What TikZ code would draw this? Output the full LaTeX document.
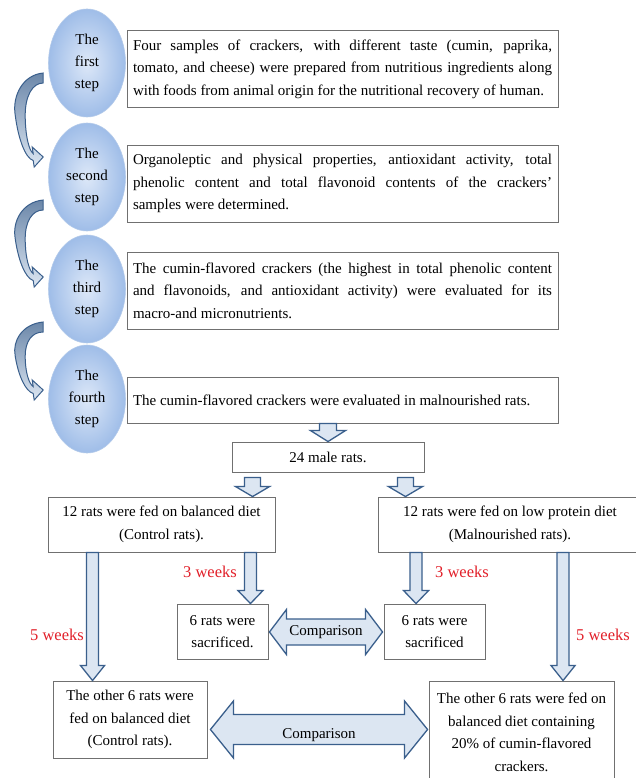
\documentclass[tikz,border=0pt]{standalone}
\usepackage{fontspec}
\setmainfont{Liberation Serif}
\usetikzlibrary{
  shapes.geometric,
  calc
}
\hyphenpenalty=10000
\exhyphenpenalty=10000
\definecolor{stepInner}{HTML}{DDE8F8}
\definecolor{stepOuter}{HTML}{9FBDE8}
\definecolor{stepEdge}{HTML}{B3CAEA}
\definecolor{arrowFill}{HTML}{DCE6F2}
\definecolor{arrowLine}{HTML}{3A5F8C}
\definecolor{boxLine}{HTML}{707070}
\definecolor{weekRed}{HTML}{E2202A}
\tikzset{
  stepNode/.style={
    ellipse, minimum width=77pt, minimum height=108pt, inner sep=0pt,
    draw=stepEdge, line width=0.6pt, inner color=stepInner,
    outer color=stepOuter, align=center,
    font=\fontsize{15}{22}\selectfont
  },
  textBox/.style={
    draw=boxLine, line width=0.9pt, fill=white, inner xsep=6pt,
    inner ysep=0pt, font=\fontsize{15}{22.5}\selectfont
  },
  stageBox/.style={
    textBox, text width=419pt, align=justify, minimum height=77pt
  },
  ratBox/.style={
    textBox, align=center
  },
  weekLabel/.style={
    text=weekRed, font=\fontsize{16.5}{20}\selectfont
  },
  compLabel/.style={
    font=\fontsize{15}{18}\selectfont
  },
  blockArrow/.style={
    draw=arrowLine, fill=arrowFill, line width=1.3pt, line join=miter
  },
  curveArrow/.style={
    draw=arrowLine, line width=1pt,
    top color=arrowLine!75!white, bottom color=arrowFill
  }
}
% block arrow pointing down: from, to, half shaft, half head, head length
\newcommand{\blockDown}[5]{%
  \draw[blockArrow] let \p1=(#1), \p2=(#2) in
    (\x1-#3,\y1) -- (\x1+#3,\y1) -- (\x1+#3,\y2+#5) -- (\x1+#4,\y2+#5)
    -- (\x1,\y2) -- (\x1-#4,\y2+#5) -- (\x1-#3,\y2+#5) -- cycle;
}
% block arrow with two heads: left tip, right tip, half body, half head, head length
\newcommand{\blockBoth}[5]{%
  \draw[blockArrow] let \p1=(#1), \p2=(#2) in
    (\x1,\y1) -- (\x1+#5,\y1+#4) -- (\x1+#5,\y1+#3) -- (\x2-#5,\y1+#3)
    -- (\x2-#5,\y1+#4) -- (\x2,\y1) -- (\x2-#5,\y1-#4) -- (\x2-#5,\y1-#3)
    -- (\x1+#5,\y1-#3) -- (\x1+#5,\y1-#4) -- cycle;
}
% curved block arrow on the left: start (top of band), tip
\newcommand{\curvedStep}[2]{%
  \draw[curveArrow] let \p1=(#1), \p2=(#2), \n1={\y1-\y2} in
    (\x1,\y1) .. controls (\x1-21pt,\y1-2pt) and (\x1-31pt,\y1-0.28*\n1)
    .. (\x1-28pt,\y1-0.5*\n1)
    .. controls (\x1-25pt,\y1-0.78*\n1) and (\x1-18pt,\y1-\n1-1pt) .. (\x1-10pt,\y1-\n1-3.5pt)
    -- (\x1-9pt,\y1-\n1-10pt) -- (\x2,\y2) -- (\x1-11pt,\y1-\n1+10pt)
    -- (\x1-10pt,\y1-\n1+3.5pt)
    .. controls (\x1-14pt,\y1-\n1+6pt) and (\x1-18pt,\y1-0.75*\n1)
    .. (\x1-18pt,\y1-0.5*\n1)
    .. controls (\x1-18pt,\y1-0.28*\n1) and (\x1-11pt,\y1-10pt) .. (\x1,\y1-10pt)
    -- cycle;
}

\begin{document}
\begin{tikzpicture}[x=1pt, y=-1pt]

\path[use as bounding box, fill=white] (0,0) rectangle (635,778);

% ── STEPS ──────────────────────────────────────────────────────────
\node[stepNode] (S1) at (87,63)  {The\\first\\step};
\node[stepNode] (S2) at (87,177) {The\\second\\step};
\node[stepNode] (S3) at (87,289) {The\\third\\step};
\node[stepNode] (S4) at (87,399) {The\\fourth\\step};

\node[stageBox] (T1) at (342.5,69) {Four samples of crackers, with different
  taste (cumin, paprika, \linebreak tomato, and cheese) were prepared from
  nutritious ingredients along \linebreak with foods from animal origin for
  the nutritional recovery of human.};
\node[stageBox] (T2) at (342.5,183.5) {Organoleptic and physical properties,
  antioxidant activity, total \linebreak phenolic content and total flavonoid
  contents of the crackers' \linebreak samples were determined.};
\node[stageBox] (T3) at (342.5,290.5) {The cumin-flavored crackers (the
  highest in total phenolic content \linebreak and flavonoids, and antioxidant
  activity) were evaluated for its \linebreak macro-and micronutrients.};
\node[stageBox, minimum height=46pt] (T4) at (342.5,400) {The cumin-flavored
  crackers were evaluated in malnourished rats.};

% step to step
\curvedStep{$(S1.west)+(-5,10)$}{$(S2.west)+(-5,-20)$}
\curvedStep{$(S2.west)+(-5,23)$}{$(S3.west)+(-5,-12)$}
\curvedStep{$(S3.west)+(-5,33)$}{$(S4.west)+(-5,-9)$}

% ── RATS ───────────────────────────────────────────────────────────
\node[ratBox, minimum width=192pt, minimum height=30pt] (R24) at (328,457)
  {24 male rats.};
\node[ratBox, minimum width=227pt, minimum height=55pt] (C12) at (161.5,524.5)
  {12 rats were fed on balanced diet\\(Control rats).};
\node[ratBox, minimum width=264pt, minimum height=55pt] (M12) at (510,524.5)
  {12 rats were fed on low protein diet\\(Malnourished rats).};
\node[ratBox, minimum width=91pt, minimum height=55pt] (C6a) at (222.5,631.5)
  {6 rats were\\sacrificed.};
\node[ratBox, minimum width=101pt, minimum height=55pt] (M6a) at (434.5,631.5)
  {6 rats were\\sacrificed};
\node[ratBox, minimum width=154pt, minimum height=77pt] (C6b) at (130,719.5)
  {The other 6 rats were\\fed on balanced diet\\(Control rats).};
\node[ratBox, minimum width=185pt, minimum height=103pt] (M6b) at (521.5,732.5)
  {The other 6 rats were fed on\\balanced diet containing\\20\% of
  cumin-flavored\\crackers.};

% ── ARROWS ─────────────────────────────────────────────────────────
\blockDown{R24.north |- T4.south}{R24.north}{8.5pt}{17.5pt}{11pt}
\blockDown{$(R24.south west)+(21,5)$}{C12.north}{8pt}{17pt}{10pt}
\blockDown{$(R24.south east)+(-19,5)$}{M12.north}{8pt}{17pt}{10pt}

\blockDown{$(C12.south east)+(-25,0)$}{C6a.north}{6pt}{12.5pt}{13pt}
\blockDown{$(M12.south west)+(38.5,0)$}{M6a.north}{6pt}{12.5pt}{13pt}
\blockDown{$(C12.south west)+(45,0)$}{C6b.north}{6pt}{12pt}{15pt}
\blockDown{$(M12.south west)+(185.5,0)$}{M6b.north}{6pt}{12pt}{15pt}

\blockBoth{$(C6a.east)+(1,0.5)$}{$(M6a.west)+(-1,0)$}{13pt}{22.5pt}{17pt}
\blockBoth{$(C6b.east)+(3,10)$}{$(M6b.west)+(-1,0)$}{15pt}{28.5pt}{23pt}

\node[compLabel] (K1) at ($(C6a.east)!0.5!(M6a.west)+(0,0.5)$) {Comparison};
\node[compLabel] (K2) at ($(C6b.east)!0.5!(M6b.west)+(1,9)$) {Comparison};

% weeks
\node[weekLabel] (W3a) at (210,572) {3 weeks};
\node[weekLabel] (W3b) at (462,572) {3 weeks};
\node[weekLabel] (W5a) at (57,635)  {5 weeks};
\node[weekLabel] (W5b) at (603,635) {5 weeks};

\end{tikzpicture}
\end{document}
